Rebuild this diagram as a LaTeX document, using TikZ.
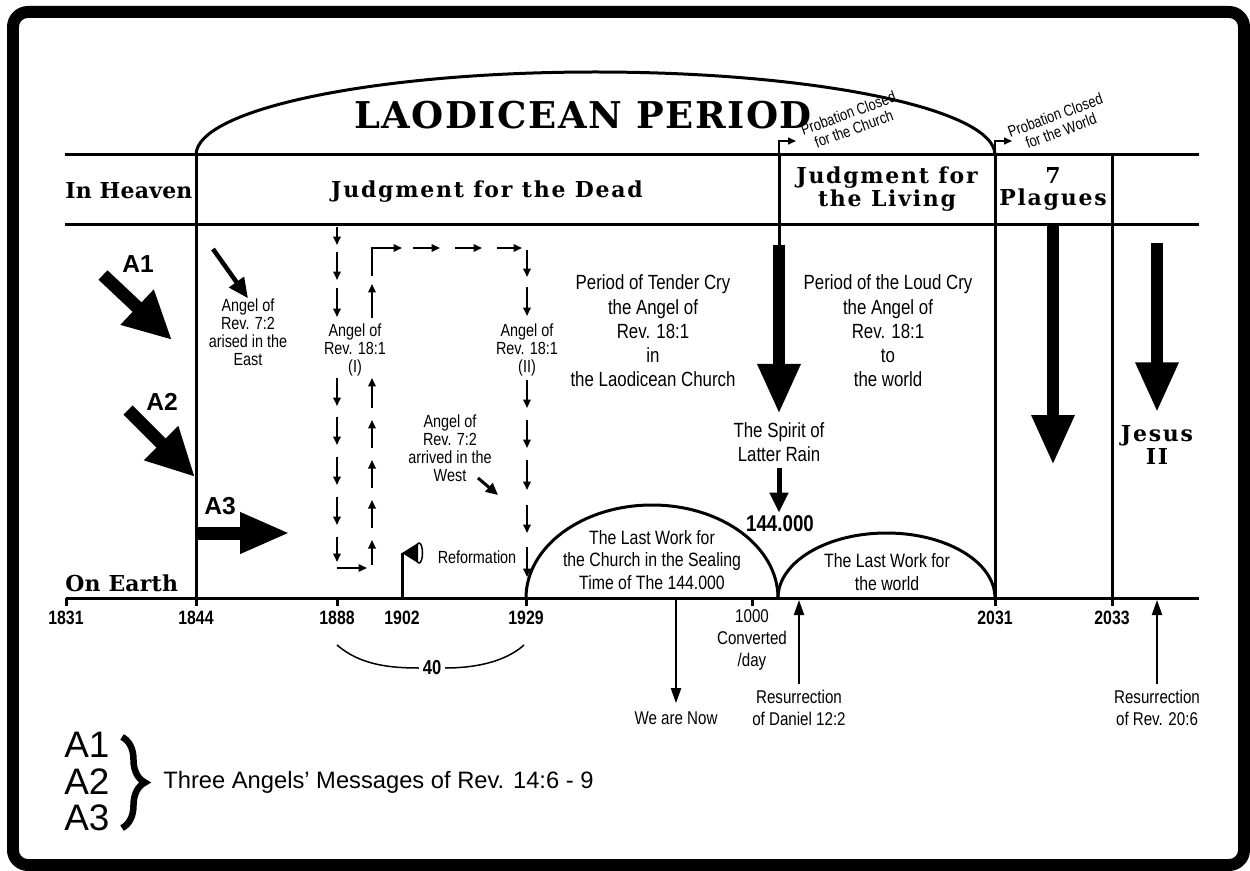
\documentclass[tikz,border=0pt]{standalone}
\usepackage{fontspec}
\setmainfont{Liberation Sans}
\newfontfamily\narrowsf{Liberation Sans}[FakeStretch=0.82]
\newfontfamily\condsf{Liberation Sans}[FakeStretch=0.75]
\newfontfamily\slab{DejaVu Serif}[LetterSpace=8]
\newfontfamily\slabtight{DejaVu Serif}[LetterSpace=1]
\newfontfamily\slabtitle{DejaVu Serif}[LetterSpace=4]
\usetikzlibrary{arrows.meta,decorations.pathreplacing}

\tikzset{
  rule/.style={line width=0.6mm},
  note/.style={font=\narrowsf\fontsize{10}{10.2}\selectfont, align=center, inner sep=0pt},
  period/.style={font=\narrowsf\fontsize{11.7}{13.8}\selectfont, align=center, inner sep=0pt},
  worktxt/.style={font=\narrowsf\fontsize{11}{12.8}\selectfont, align=center, inner sep=0pt},
  undertxt/.style={font=\narrowsf\fontsize{10.5}{12.3}\selectfont, align=center, inner sep=0pt},
  rowhead/.style={font=\slab\bfseries\fontsize{12.5}{12.8}\selectfont, align=center, inner sep=0pt},
  sidehead/.style={font=\slabtight\bfseries\fontsize{12.5}{12.8}\selectfont, inner sep=0pt, anchor=west},
  probation/.style={font=\narrowsf\fontsize{9}{9.5}\selectfont, align=center, inner sep=0pt, rotate=20},
  yearlbl/.style={font=\narrowsf\bfseries\fontsize{11}{12}\selectfont, inner sep=0pt},
  angellbl/.style={font=\bfseries\fontsize{14}{16}\selectfont, inner sep=0pt},
  legend/.style={font=\fontsize{21}{21}\selectfont, inner sep=0pt, anchor=west},
  fatarrow/.style={line width=2.4mm, -{Triangle[length=10mm,width=8mm]}},
  angelarrow/.style={line width=2.6mm, -{Triangle[length=9.6mm,width=9mm]}},
  dasharrow/.style={line width=0.4mm, -{Triangle[length=1.7mm,width=1.5mm]}},
  thinarrow/.style={line width=0.4mm, -{Triangle[length=3mm,width=2mm]}},
}

\begin{document}
\begin{tikzpicture}[x=0.02cm,y=-0.02cm]
\useasboundingbox (0,0) rectangle (1250,871);
% frame
\draw[line width=2.4mm, rounded corners=3mm] (13,12) rectangle (1244,865);

% rows and columns
\draw[rule] (65,155) -- (1199,155);
\draw[rule] (65,225) -- (1199,225);
\draw[rule] (66,598) -- (1199,598); % time axis
\draw[rule] (196,155) -- (196,598);
\draw[rule] (995,155) -- (995,598);
\draw[rule] (1112,155) -- (1112,598);
\draw[rule] (779,155) -- (779,245);

% Laodicean arc
\draw[rule] (196,155) arc[start angle=180, end angle=360, x radius=399.5, y radius=83];
\node[font=\slabtitle\bfseries\fontsize{21}{22}\selectfont, inner sep=0pt] (title) at (583,115) {LAODICEAN PERIOD};

% probation closed
\coordinate (pc1) at (779,155);
\coordinate (pc2) at (995,155);
\draw[line width=0.3mm, -{Triangle[length=1.6mm,width=1.4mm]}] (pc1) -- ++(0,-14) -- ++(17,0);
\draw[line width=0.3mm, -{Triangle[length=1.6mm,width=1.4mm]}] (pc2) -- ++(0,-14) -- ++(17,0);
\node[probation] (church) at (851,121) {Probation Closed\\for the Church};
\node[probation] (world) at (1058,123) {Probation Closed\\for the World};

% row heads
\node[sidehead] (heaven) at (65,191) {In Heaven};
\node[rowhead] (dead) at (487,192) {Judgment for the Dead};
\node[rowhead] (living) at (887,189) {Judgment for\\the Living};
\node[rowhead] (plagues) at (1053,189) {7\\Plagues};
\node[sidehead] (earth) at (65,583) {On Earth};

% three angels
\node[angellbl] (a1) at (138,264) {A1};
\node[angellbl] (a2) at (162,402) {A2};
\node[angellbl] (a3) at (220,506) {A3};
\coordinate (a1s) at (103,275); \coordinate (a1e) at (172,340);
\coordinate (a2s) at (128,410); \coordinate (a2e) at (195,477);
\coordinate (a3s) at (196,533); \coordinate (a3e) at (290,533);
\draw[angelarrow] (a1s) -- (a1e);
\draw[angelarrow] (a2s) -- (a2e);
\draw[line width=2.6mm, -{Triangle[length=10mm,width=7.6mm]}] (a3s) -- (a3e);

% angel of the east
\node[note] (east) at (248,332) {Angel of\\Rev. 7:2\\arised in the\\East};
\coordinate (eastfrom) at (213,249);
\draw[line width=0.9mm, -{Triangle[length=4mm,width=3.5mm]}] (eastfrom) -- (east.north);

% angel of Rev. 18:1 (I) and (II)
\node[note] (angelI) at (355,350) {Angel of\\Rev. 18:1\\(I)};
\node[note] (angelII) at (527,350) {Angel of\\Rev. 18:1\\(II)};
\foreach \ya/\yb in {227/245, 252/280, 288/317, 378/406, 417/445, 457/485, 497/525, 537/562}
  \draw[dasharrow] (337,\ya) -- (337,\yb);
\draw[dasharrow] (337,568) -- (367,568);
\foreach \ya/\yb in {565/540, 528/500, 488/460, 448/420, 408/378, 318/284}
  \draw[dasharrow] (372,\ya) -- (372,\yb);
\draw[dasharrow] (372,276) -- (372,248) -- (402,248);
\foreach \xa/\xb in {413/440, 455/482, 497/522}
  \draw[dasharrow] (\xa,248) -- (\xb,248);
\foreach \ya/\yb in {250/277, 287/316, 380/408, 420/448, 460/490, 505/533, 547/577}
  \draw[dasharrow] (527,\ya) -- (527,\yb);

% angel of the west
\node[note] (west) at (450,448) {Angel of\\Rev. 7:2\\arrived in the\\West};
\coordinate (westfrom) at (478,478);
\coordinate (westto) at (498,495);
\draw[line width=0.6mm, -{Triangle[length=2.4mm,width=2.2mm]}] (westfrom) -- (westto);

% reformation flag
\coordinate (flag) at (402,553);
\draw[rule] (402,598) -- (flag);
\fill (flag) -- (418,543) -- (418,563) -- cycle;
\draw[line width=0.3mm] (419,553) ellipse[x radius=3.5, y radius=10];
\node[note] (reform) at (477,557) {Reformation};

% periods of the cry
\node[period] (tender) at (653,331) {Period of Tender Cry\\the Angel of\\Rev. 18:1\\in\\the Laodicean Church};
\node[period] (loud) at (888,331) {Period of the Loud Cry\\the Angel of\\Rev. 18:1\\to\\the world};

% latter rain
\node[period] (spirit) at (779,442) {The Spirit of\\Latter Rain};
\node[font=\narrowsf\bfseries\fontsize{13}{14}\selectfont, inner sep=0pt] (sealed) at (780,524) {144.000};
\coordinate (rain) at (779,245);
\draw[fatarrow] (rain) -- ([yshift=1.6mm]spirit.north);
\draw[line width=1mm, -{Triangle[length=4mm,width=3.6mm]}] ([yshift=-1.2mm]spirit.south) -- ([yshift=0.6mm]spirit.south |- sealed.north);

% plagues and second coming
\coordinate (plaguetop) at (1053,225);
\coordinate (plagueend) at (1053,465);
\draw[fatarrow] (plaguetop) -- (plagueend);
\node[rowhead] (jesus) at (1157,445) {Jesus\\II};
\coordinate (jesustop) at (1157,243);
\draw[fatarrow] (jesustop) -- ([yshift=2.6mm]jesus.north);

% last works
\draw[rule] (526,598) arc[start angle=180, end angle=360, x radius=126, y radius=93];
\draw[rule] (778,598) arc[start angle=180, end angle=360, x radius=108.5, y radius=65];
\node[worktxt] (work1) at (652,560) {The Last Work for\\the Church in the Sealing\\Time of The 144.000};
\node[worktxt] (work2) at (887,572) {The Last Work for\\the world};

% years
\foreach \yr/\xx in {1831/66, 1844/196, 1888/337, 1929/526, 2031/995, 2033/1112} {
  \draw[rule] (\xx,598) -- (\xx,606);
  \node[yearlbl] (y\yr) at (\xx,618) {\yr};
}
\node[yearlbl] (y1902) at (402,618) {1902};
\draw[rule] (752,598) -- (752,606);
\node[undertxt] (converted) at (752,640) {1000\\Converted\\/day};

% 40 years
\node[font=\narrowsf\bfseries\fontsize{11.5}{12}\selectfont, inner sep=2pt] (forty) at (432,668) {40};
\draw[line width=0.3mm] (337,645) .. controls (360,665) and (390,668) .. (forty.west);
\draw[line width=0.3mm] (forty.east) .. controls (475,668) and (505,662) .. (524,645);

% below the axis
\coordinate (nowtop) at (676,598);
\node[undertxt] (now) at (676,718) {We are Now};
\draw[thinarrow] (nowtop) -- ([yshift=1.6mm]now.north);
\node[undertxt] (daniel) at (799,708) {Resurrection\\of Daniel 12:2};
\coordinate (danieltop) at (799,600);
\draw[thinarrow] ([yshift=1.2mm]daniel.north) -- (danieltop);
\node[undertxt] (rev20) at (1157,708) {Resurrection\\of Rev. 20:6};
\coordinate (rev20top) at (1157,600);
\draw[thinarrow] ([yshift=1.2mm]rev20.north) -- (rev20top);

% legend
\node[legend] (la1) at (64,745) {A1};
\node[legend] (la2) at (64,782) {A2};
\node[legend] (la3) at (64,818) {A3};
\draw[line width=1.3mm, decorate, decoration={brace, amplitude=4.6mm}] (122,737) -- (122,828);
\node[font=\fontsize{13.5}{14}\selectfont, inner sep=0pt, anchor=west] (msg) at (163,782) {Three Angels’ Messages of Rev. 14:6 - 9};
\end{tikzpicture}
\end{document}
